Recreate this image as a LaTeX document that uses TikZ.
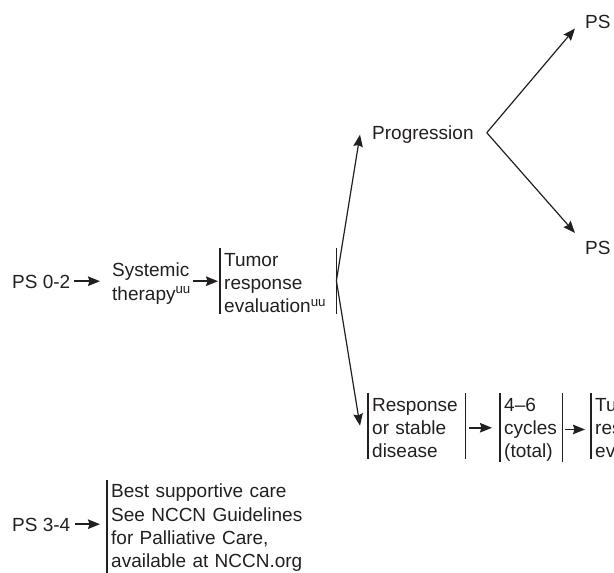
\documentclass[tikz,border=0pt]{standalone}
\usepackage{fontspec}
\setmainfont{Liberation Sans}
\usetikzlibrary{arrows.meta}
\definecolor{ink}{RGB}{35,31,32}
\newcommand{\lnst}{\rule[-0.5pt]{0pt}{18.5pt}}
\newcommand{\lndeep}{\rule[-5pt]{0pt}{18.5pt}}
\begin{document}
\begin{tikzpicture}[x=1pt,y=-1pt,
  every node/.style={font=\fontsize{19}{23.3}\selectfont, text=ink},
  lone/.style={inner sep=0pt, text height=13.6pt, text depth=0pt, anchor=base west},
  multi/.style={inner ysep=0pt, inner xsep=0pt, align=left, anchor=north west},
  brk/.style={inner ysep=0pt, inner xsep=4pt, align=left, anchor=north west},
  bar/.style={line width=1.5pt, draw=ink},
  tip/.style={-{Stealth[length=12pt,width=9.5pt,inset=1.5pt]}},
  arr/.style={tip, line width=1.5pt, draw=ink},
  diag/.style={tip, line width=1.2pt, draw=ink}
]
\useasboundingbox (0,0) rectangle (614,573);
\clip (0,0) rectangle (614,573);

% first row
\node[lone] (ps02) at (12,288) {PS 0-2};
\node[multi] (sys) at (112,258.5) {\lnst Systemic\\\lnst therapy\textsuperscript{uu}};
\node[brk, text width=108pt] (tre) at (220,248) {\lnst Tumor\\\lnst response\\\lnst evaluation\textsuperscript{uu}};

% progression branch
\node[lone] (prog) at (372,139.5) {Progression};
\node[lone] (pstop) at (585,28) {PS};
\node[lone] (psbot) at (585,254) {PS};

% response branch
\node[brk, text width=89pt] (resp) at (368,393) {\lnst Response\\\lnst or stable\\\lnst disease};
\node[brk, text width=54pt] (cyc) at (500,393) {\lnst 4--6\\\lnst cycles\\\lnst (total)};
\node[brk, text width=100pt] (tre2) at (591,393) {\lnst Tumor\\\lnst response\\\lnst evaluation};

% PS 3-4 row
\node[lone] (ps34) at (12,531) {PS 3-4};
\node[brk, text width=200pt] (bsc) at (107,479.5) {\lnst Best supportive care\\\lnst See NCCN Guidelines\\\lnst for Palliative Care,\\\lndeep available at NCCN.org};

% bracket bars
\foreach \n in {tre,resp,cyc} {
  \draw[bar] (\n.north west) -- (\n.south west);
  \draw[bar] (\n.north east) -- (\n.south east);
}
\draw[bar] (tre2.north west) -- (tre2.south west);
\draw[bar] (bsc.north west) -- (bsc.south west);

% horizontal arrows
\draw[arr, shorten <=4pt, shorten >=12pt] (ps02.east) -- (ps02.east -| sys.west);
\draw[arr, shorten <=2pt, shorten >=2pt] (ps02.east -| sys.east) -- (ps02.east -| tre.west);
\draw[arr, shorten <=4pt, shorten >=8pt] ([yshift=-2pt]resp.east) -- ([yshift=-2pt]resp.east -| cyc.west);
\draw[arr, shorten <=3pt, shorten >=6pt] ([yshift=-2pt]cyc.east) -- ([yshift=-2pt]cyc.east -| tre2.west);
\draw[arr, shorten <=5pt, shorten >=7pt] (ps34.east) -- (ps34.east -| bsc.west);

% diagonal arrows
\coordinate (uptip) at ([xshift=-12pt,yshift=-2pt]prog.west);
\coordinate (pv) at ([xshift=13pt]prog.east);
\coordinate (t1) at ([xshift=-10pt,yshift=-0.5pt]pstop.base west);
\coordinate (t2) at ([xshift=-10pt,yshift=21pt]psbot.base west);
\draw[diag] (tre.east) -- (uptip);
\draw[diag] (tre.east) -- ([xshift=-8pt]resp.west);
\draw[diag] (pv) -- (t1);
\draw[diag] (pv) -- (t2);
\end{tikzpicture}
\end{document}
